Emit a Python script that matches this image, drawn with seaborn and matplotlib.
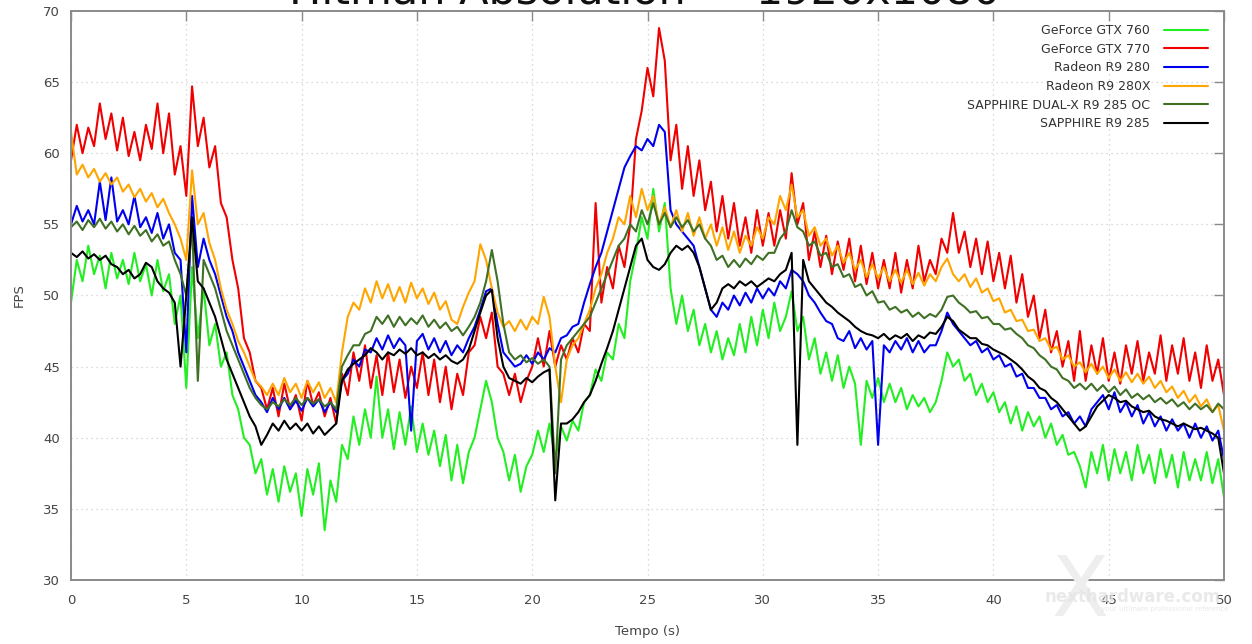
import numpy as np
import pandas as pd
import matplotlib
matplotlib.use("Agg")
import matplotlib.pyplot as plt
import seaborn as sns

# Frame-rate log, Hitman Absolution at 1920x1080, sampled every 0.25 s
tempo = np.arange(201) * 0.25

gtx760 = [
    49.5, 52.5, 51.0, 53.5, 51.5, 52.8, 50.5, 53.0, 51.2, 52.5, 50.8, 53.0, 51.0, 52.2, 50.0, 52.5,
    50.3, 51.5, 48.0, 50.0, 43.5, 52.0, 47.0, 50.5, 46.5, 48.0, 45.0, 46.0, 43.0, 42.0, 40.0, 39.5,
    37.5, 38.5, 36.0, 37.8, 35.5, 38.0, 36.2, 37.5, 34.5, 37.8, 36.0, 38.2, 33.5, 37.0, 35.5, 39.5,
    38.5, 41.5, 39.5, 42.0, 40.0, 44.3, 40.0, 42.0, 39.2, 41.8, 39.5, 42.2, 39.0, 41.0, 38.8, 40.5,
    38.0, 40.2, 37.0, 39.5, 36.8, 39.0, 40.0, 42.0, 44.0, 42.5, 40.0, 39.0, 37.0, 38.8, 36.2, 38.0,
    38.8, 40.5, 39.0, 41.0, 38.5, 40.8, 39.8, 41.2, 40.5, 42.5, 43.0, 44.8, 44.0, 46.0, 45.5, 48.0,
    47.0, 51.0, 53.0, 55.5, 54.0, 57.5, 54.5, 56.5, 50.5, 48.0, 50.0, 47.5, 49.0, 46.5, 48.0, 46.0,
    47.5, 45.5, 47.0, 45.8, 48.0, 46.0, 48.5, 46.5, 49.0, 47.0, 49.5, 47.5, 48.5, 50.3, 47.5, 48.5,
    45.5, 47.0, 44.5, 46.0, 44.0, 45.8, 43.5, 45.0, 43.8, 39.5, 44.0, 42.8, 44.2, 42.5, 43.8, 42.5,
    43.5, 42.0, 43.0, 42.2, 42.8, 41.8, 42.5, 44.0, 46.0, 45.0, 45.5, 44.0, 44.5, 43.0, 43.8, 42.5,
    43.2, 41.8, 42.5, 41.0, 42.2, 40.5, 41.8, 40.8, 41.5, 40.0, 41.0, 39.5, 40.2, 38.8, 39.0, 38.0,
    36.5, 39.0, 37.5, 39.5, 37.0, 39.2, 37.5, 39.0, 37.0, 39.5, 37.5, 38.8, 36.8, 39.2, 37.2, 38.8,
    36.5, 39.0, 37.0, 38.5, 37.0, 39.0, 36.8, 38.5, 35.8,
]

gtx770 = [
    59.5, 62.0, 60.0, 61.8, 60.5, 63.5, 61.0, 62.8, 60.2, 62.5, 59.8, 61.5, 59.5, 62.0, 60.3, 63.5,
    60.0, 62.8, 58.5, 60.5, 57.0, 64.7, 60.5, 62.5, 59.0, 60.5, 56.5, 55.5, 52.5, 50.5, 47.0, 46.0,
    44.0, 43.5, 42.0, 43.5, 41.5, 43.8, 42.0, 43.0, 41.2, 44.0, 42.3, 43.2, 41.5, 42.8, 41.0, 44.5,
    43.0, 46.0, 44.0, 46.5, 43.5, 45.8, 43.0, 46.0, 43.2, 45.5, 42.8, 45.0, 43.5, 46.0, 43.0, 45.5,
    42.5, 45.0, 42.0, 44.5, 43.0, 46.0, 46.5, 48.5, 47.0, 48.8, 45.0, 44.5, 43.0, 44.5, 42.5, 44.0,
    45.0, 47.0, 45.0, 47.5, 45.0, 46.5, 45.5, 47.0, 46.0, 48.0, 47.5, 56.5, 49.5, 52.0, 50.5, 53.5,
    52.0, 55.0, 61.0, 63.0, 66.0, 64.0, 68.8, 66.5, 59.5, 62.0, 57.5, 60.5, 57.0, 59.5, 56.0, 58.0,
    54.5, 57.0, 54.0, 56.5, 53.5, 55.5, 53.0, 56.0, 53.5, 55.8, 53.5, 56.0, 54.0, 58.6, 55.0, 56.5,
    52.5, 54.5, 52.0, 54.2, 51.5, 53.8, 51.8, 54.0, 51.0, 53.5, 50.8, 53.0, 50.5, 52.5, 50.5, 53.0,
    50.2, 52.5, 50.5, 53.5, 51.0, 52.5, 51.5, 54.0, 53.0, 55.8, 53.0, 54.5, 52.0, 54.0, 51.5, 53.8,
    51.0, 53.0, 50.5, 52.8, 49.5, 51.5, 48.5, 50.0, 47.0, 49.0, 46.0, 47.5, 45.0, 46.8, 44.0, 47.5,
    44.0, 46.5, 44.5, 47.0, 44.0, 46.0, 43.8, 46.5, 44.5, 46.8, 44.0, 46.0, 44.5, 47.2, 44.0, 46.5,
    44.5, 47.0, 44.0, 46.0, 43.5, 46.5, 44.0, 45.5, 43.0,
]

r9_280 = [
    55.0, 56.3, 55.2, 56.0, 55.0, 58.0, 55.3, 58.3, 55.2, 56.0, 55.0, 57.0, 54.8, 55.5, 54.4, 55.8,
    54.0, 55.0, 53.0, 52.5, 46.0, 57.0, 52.0, 54.0, 52.5, 51.5, 50.0, 48.5, 47.5, 46.0, 45.0, 44.0,
    43.0, 42.5, 41.8, 42.8, 42.0, 42.8, 42.0, 42.6, 41.9, 42.8, 42.2, 42.7, 41.8, 42.5, 41.8, 44.0,
    44.5, 45.5, 45.0, 46.2, 46.0, 47.0, 46.2, 47.2, 46.3, 47.0, 46.5, 40.5, 46.8, 47.3, 46.2, 47.0,
    46.0, 46.8, 45.8, 46.5, 46.0, 47.0, 47.8, 49.0, 50.3, 50.5, 48.0, 46.0, 45.5, 45.0, 45.2, 45.8,
    45.2, 46.0, 45.5, 46.3, 46.0, 47.0, 47.2, 47.8, 48.0, 49.5, 50.8, 52.0, 53.0, 54.5, 56.0, 57.5,
    59.0, 59.8, 60.5, 60.2, 61.0, 60.5, 62.0, 61.5, 56.0, 55.0, 54.5, 54.0, 53.5, 52.0, 50.5, 49.0,
    48.5, 49.5, 49.0, 50.0, 49.3, 50.2, 49.5, 50.5, 49.8, 50.5, 50.0, 51.0, 50.5, 51.8, 51.5, 51.0,
    50.0, 49.5, 48.8, 48.2, 48.0, 47.0, 46.8, 47.5, 46.3, 47.0, 46.2, 46.8, 39.5, 46.5, 46.0, 46.8,
    46.2, 47.0, 46.0, 46.8, 46.0, 46.5, 46.5, 47.5, 48.8, 48.0, 47.5, 47.0, 46.5, 46.8, 46.0, 46.3,
    45.5, 45.8, 45.0, 45.2, 44.3, 44.5, 43.5, 43.5, 42.8, 42.8, 42.0, 42.3, 41.5, 41.8, 41.0, 41.5,
    40.8, 42.0, 42.5, 43.0, 42.0, 43.2, 41.8, 42.5, 41.5, 42.3, 41.0, 41.8, 40.8, 41.5, 40.5, 41.3,
    40.5, 41.0, 40.0, 41.0, 40.0, 40.8, 39.8, 40.5, 38.5,
]

r9_280x = [
    61.5, 58.5, 59.2, 58.3, 58.9, 58.0, 58.6, 57.8, 58.3, 57.3, 57.8, 56.9, 57.5, 56.6, 57.2, 56.2,
    56.8, 55.8, 55.0, 54.0, 52.5, 58.8, 55.0, 55.8, 53.7, 52.5, 50.5, 49.0, 48.0, 46.8, 46.0, 45.0,
    44.0, 43.6, 43.0, 43.8, 43.0, 44.2, 43.2, 43.8, 42.8, 44.0, 43.2, 43.9, 42.8, 43.5, 42.5, 46.0,
    48.5, 49.5, 49.0, 50.5, 49.5, 51.0, 49.8, 50.8, 49.6, 50.6, 49.5, 50.9, 49.8, 50.5, 49.4, 50.2,
    49.0, 49.6, 48.3, 48.0, 49.2, 50.2, 51.0, 53.6, 52.5, 50.5, 48.8, 47.8, 48.2, 47.5, 48.3, 47.6,
    48.5, 48.0, 49.9, 48.5, 45.0, 42.5, 45.5, 46.5, 47.0, 48.0, 49.0, 50.5, 51.5, 53.0, 54.0, 55.5,
    55.0, 57.0, 55.5, 57.5, 56.0, 57.0, 55.0, 56.2, 54.8, 56.0, 54.5, 55.8, 54.2, 55.5, 54.0, 55.0,
    53.5, 54.8, 53.2, 54.5, 53.0, 54.2, 53.5, 54.8, 54.0, 55.5, 55.0, 57.0, 56.0, 57.8, 55.5, 56.0,
    54.2, 54.8, 53.5, 54.0, 52.8, 53.5, 52.3, 53.0, 51.8, 52.5, 51.3, 52.2, 51.2, 52.0, 51.0, 51.8,
    50.9, 51.8, 50.8, 51.6, 50.7, 51.5, 51.0, 52.0, 52.6, 51.5, 51.0, 51.5, 50.6, 51.2, 50.2, 50.5,
    49.6, 49.8, 48.8, 49.0, 48.2, 48.3, 47.5, 47.6, 46.8, 47.0, 46.2, 46.4, 45.5, 45.8, 45.0, 45.3,
    44.6, 45.2, 44.5, 45.0, 44.2, 44.8, 44.0, 44.6, 43.9, 44.5, 43.8, 44.3, 43.5, 44.0, 43.2, 43.6,
    42.8, 43.3, 42.5, 43.0, 42.2, 42.7, 41.8, 42.3, 40.5,
]

dualx_285oc = [
    54.8, 55.2, 54.6, 55.3, 54.8, 55.4, 54.7, 55.2, 54.5, 55.0, 54.3, 54.9, 54.2, 54.6, 53.8, 54.3,
    53.5, 53.8, 52.5, 51.5, 50.0, 55.0, 44.0, 52.5, 51.5, 50.5, 49.0, 47.5, 46.5, 45.5, 44.5, 43.5,
    42.8, 42.3, 42.0, 42.5, 42.2, 42.7, 42.3, 42.8, 42.3, 42.8, 42.4, 42.7, 42.2, 42.5, 42.0, 45.0,
    45.8, 46.5, 46.5, 47.3, 47.5, 48.5, 48.0, 48.6, 47.8, 48.5, 47.9, 48.4, 48.0, 48.6, 47.8, 48.3,
    47.7, 48.1, 47.5, 47.8, 47.2, 47.8, 48.5, 49.5, 51.0, 53.2, 51.0, 48.0, 46.0, 45.5, 45.8, 45.3,
    45.6, 45.2, 45.5, 45.0, 37.5, 45.5, 46.5, 47.0, 47.5, 48.0, 48.5, 49.5, 50.5, 51.5, 52.5, 53.5,
    54.0, 55.0, 54.5, 56.0, 55.0, 56.5, 55.0, 55.8, 54.8, 55.5, 54.8, 55.3, 54.5, 55.0, 54.0, 53.5,
    52.5, 52.8, 52.0, 52.5, 52.0, 52.6, 52.2, 52.8, 52.5, 53.0, 53.0, 54.0, 54.5, 56.0, 54.8, 54.5,
    53.5, 53.8, 52.8, 53.0, 52.0, 52.2, 51.3, 51.5, 50.6, 50.8, 50.0, 50.3, 49.5, 49.6, 49.0, 49.2,
    48.8, 49.0, 48.5, 48.8, 48.4, 48.7, 48.5, 49.0, 49.9, 50.0, 49.5, 49.2, 48.8, 48.9, 48.4, 48.5,
    48.0, 48.0, 47.6, 47.7, 47.3, 47.0, 46.5, 46.3, 45.8, 45.5, 45.0, 44.8, 44.2, 44.0, 43.5, 43.8,
    43.4, 43.8, 43.3, 43.7, 43.2, 43.6, 43.0, 43.4, 42.8, 43.1, 42.7, 43.0, 42.5, 42.8, 42.4, 42.7,
    42.2, 42.5, 42.0, 42.4, 42.0, 42.3, 41.8, 42.4, 42.0,
]

r9_285 = [
    53.0, 52.7, 53.1, 52.6, 52.9, 52.5, 52.8, 52.2, 52.0, 51.5, 51.8, 51.2, 51.5, 52.3, 52.0, 51.0,
    50.5, 50.2, 49.5, 45.0, 50.0, 55.5, 51.0, 50.5, 49.5, 48.5, 47.0, 45.5, 44.5, 43.5, 42.5, 41.5,
    40.8, 39.5, 40.2, 41.0, 40.5, 41.2, 40.6, 41.0, 40.5, 41.0, 40.3, 40.8, 40.2, 40.6, 41.0, 44.0,
    44.8, 45.2, 45.5, 45.8, 46.3, 46.0, 45.5, 46.0, 45.8, 46.2, 45.9, 46.3, 45.8, 46.0, 45.6, 45.9,
    45.5, 45.8, 45.4, 45.2, 45.5, 46.2, 47.5, 48.8, 50.0, 50.4, 47.0, 45.0, 44.2, 44.0, 43.8, 44.2,
    43.9, 44.3, 44.6, 44.8, 35.6, 41.0, 41.0, 41.3, 41.8, 42.5, 43.0, 44.0, 45.2, 46.3, 47.5, 49.0,
    50.5, 52.0, 53.5, 54.0, 52.5, 52.0, 51.8, 52.2, 53.0, 53.5, 53.2, 53.5, 53.0, 52.0, 50.5, 49.0,
    49.5, 50.5, 50.8, 50.5, 51.0, 50.7, 51.0, 50.6, 50.9, 51.2, 51.0, 51.5, 51.8, 53.0, 39.5, 52.5,
    51.0, 50.5, 50.0, 49.5, 49.2, 48.8, 48.5, 48.2, 47.8, 47.5, 47.3, 47.2, 47.0, 47.3, 46.9, 47.2,
    47.0, 47.3, 46.8, 47.2, 47.0, 47.4, 47.3, 47.8, 48.5, 48.2, 47.6, 47.3, 47.0, 47.0, 46.6, 46.5,
    46.2, 46.0, 45.8, 45.5, 45.2, 44.8, 44.3, 44.0, 43.5, 43.3, 42.8, 42.5, 42.0, 41.5, 41.0, 40.5,
    40.8, 41.5, 42.2, 42.6, 43.0, 42.8, 42.5, 42.6, 42.2, 42.0, 41.8, 41.9, 41.5, 41.3, 41.2, 41.0,
    40.8, 41.0, 40.8, 40.6, 40.7, 40.5, 40.3, 40.0, 37.5,
]

schede = [
    "GeForce GTX 760",
    "GeForce GTX 770",
    "Radeon R9 280",
    "Radeon R9 280X",
    "SAPPHIRE DUAL-X R9 285 OC",
    "SAPPHIRE R9 285",
]
serie = [gtx760, gtx770, r9_280, r9_280x, dualx_285oc, r9_285]
colori = ["#22ee22", "#f00000", "#0000ee", "#ffa500", "#3f7024", "#000000"]

x_ticks = list(range(0, 51, 5))
y_ticks = list(range(30, 71, 5))

df = pd.concat(
    [pd.DataFrame({"Tempo (s)": tempo, "FPS": vals, "Scheda": nome})
     for nome, vals in zip(schede, serie)],
    ignore_index=True,
)

sns.set_style("white")
plt.rcParams["font.family"] = ["DejaVu Sans"]

fig = plt.figure(figsize=(12.52, 6.44), dpi=100)
ax = fig.add_axes([71 / 1252, 1 - 580 / 644, (1224 - 71) / 1252, (580 - 11) / 644])

sns.lineplot(
    data=df, x="Tempo (s)", y="FPS", hue="Scheda", hue_order=schede,
    palette=dict(zip(schede, colori)), estimator=None, sort=False,
    linewidth=1.5, ax=ax, legend=False,
)

ax.set_xlim(0, 50)
ax.set_ylim(30, 70)
ax.set_xticks(x_ticks)
ax.set_yticks(y_ticks)
ax.set_xticklabels([str(v) for v in x_ticks])
ax.set_yticklabels([str(v) for v in y_ticks])

ax.grid(True, color="#cfcfcf", linestyle=(0, (1, 3)), linewidth=0.9)
ax.set_axisbelow(True)
for s in ax.spines.values():
    s.set_color("#8a8a8a")
    s.set_linewidth(1.4)
ax.tick_params(axis="both", which="major", direction="in", length=7, width=1.0,
               color="#8a8a8a", top=True, right=True, labelsize=9.5,
               labelcolor="#444444")
ax.tick_params(axis="x", pad=10)
ax.tick_params(axis="y", pad=8)

ax.set_xlabel("Tempo (s)", fontsize=9.5, color="#444444", labelpad=13)
ax.set_ylabel("FPS", fontsize=9.5, color="#444444", labelpad=12)

handles = [plt.Line2D([], [], color=c, linewidth=1.5) for c in colori]
leg = ax.legend(handles, schede, loc="upper right", bbox_to_anchor=(0.986, 0.977),
                markerfirst=False, frameon=False, fontsize=9, handlelength=3.5,
                handletextpad=1.1, labelspacing=0.45, borderpad=0, borderaxespad=0)
for t in leg.get_texts():
    t.set_color("#333333")

fig.text(0.515, 1 - 4 / 644, "Hitman Absolution  -  1920x1080", ha="center",
         va="baseline", fontsize=31, color="#111111")

# faint site watermark in the lower right corner
fig.text(1080 / 1252, 1 - 592 / 644, "X", ha="center", va="center", fontsize=60,
         color="#eeeeee", zorder=0)
fig.text(1133 / 1252, 1 - 597 / 644, "nexthardware.com", ha="center", va="center",
         fontsize=12, fontweight="bold", color="#e4e4e4", alpha=0.8)
fig.text(1165 / 1252, 1 - 609 / 644, "your ultimate professional reference", ha="center",
         va="center", fontsize=5, color="#e4e4e4", alpha=0.8)

fig.savefig("out.png", dpi=100)
